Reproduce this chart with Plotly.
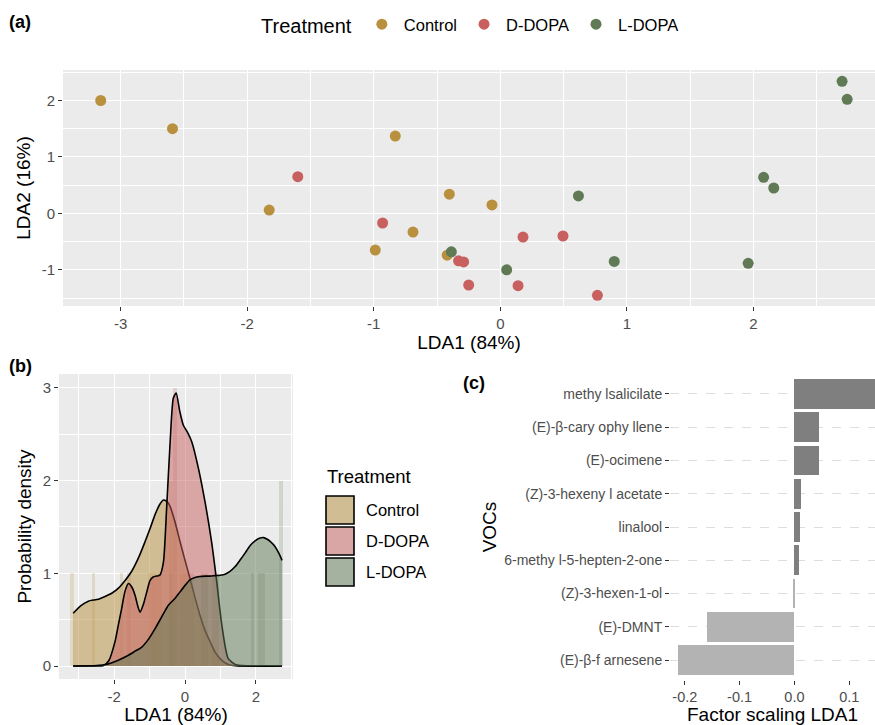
import plotly.graph_objects as go

# ---------------- data ----------------
treatments = ["Control", "D-DOPA", "L-DOPA"]
point_colors = ["#B8903E", "#C8605F", "#5F7A55"]
fill_colors = ["rgba(184,144,62,0.5)", "rgba(200,96,95,0.5)", "rgba(95,122,85,0.5)"]

# panel (a): LDA scores
lda1_control = [-3.157, -2.59, -0.83, -1.826, -0.69, -0.988, -0.403, -0.066, -0.42]
lda2_control = [2.00, 1.50, 1.37, 0.06, -0.33, -0.65, 0.34, 0.15, -0.74]
lda1_ddopa = [-1.60, -0.93, 0.179, 0.495, -0.33, -0.29, -0.25, 0.14, 0.767]
lda2_ddopa = [0.65, -0.17, -0.42, -0.40, -0.84, -0.86, -1.27, -1.28, -1.45]
lda1_ldopa = [2.70, 2.74, 2.08, 2.16, 0.617, -0.387, 0.90, 1.958, 0.05]
lda2_ldopa = [2.34, 2.02, 0.64, 0.45, 0.31, -0.68, -0.85, -0.885, -1.00]

# panel (b): density curves
dens_x_control = [-3.16, -2.95, -2.73, -2.45, -2.26, -2.05, -1.88, -1.70, -1.51, -1.30, -1.13,
                  -0.99, -0.85, -0.72, -0.61, -0.50, -0.42, -0.28, -0.14, 0.0, 0.14, 0.28,
                  0.42, 0.56, 0.71, 0.85, 0.99, 1.13, 1.27, 1.50, 1.80, 2.20, 2.74]
dens_y_control = [0.57, 0.65, 0.70, 0.72, 0.75, 0.79, 0.84, 0.92, 1.02, 1.18, 1.34,
                  1.48, 1.63, 1.74, 1.79, 1.77, 1.72, 1.55, 1.34, 1.14, 0.945, 0.74,
                  0.55, 0.39, 0.26, 0.15, 0.08, 0.035, 0.01, 0.0, 0.0, 0.0, 0.0]
dens_x_ddopa = [-3.16, -2.6, -2.3, -2.15, -1.98, -1.88, -1.79, -1.70, -1.60, -1.50, -1.41,
                -1.33, -1.27, -1.18, -1.08, -0.99, -0.90, -0.80, -0.71, -0.61, -0.52, -0.42,
                -0.33, -0.25, -0.15, -0.05, 0.07, 0.19, 0.38, 0.565, 0.75, 0.895, 1.04,
                1.22, 1.46, 2.0, 2.74]
dens_y_ddopa = [0.0, 0.0, 0.005, 0.06, 0.26, 0.45, 0.62, 0.80, 0.89, 0.85, 0.76,
                0.64, 0.58, 0.66, 0.80, 0.92, 0.96, 0.97, 0.98, 1.12, 1.70, 2.42,
                2.89, 2.945, 2.75, 2.60, 2.52, 2.42, 2.13, 1.77, 1.34, 0.91, 0.44,
                0.08, 0.01, 0.0, 0.0]
dens_x_ldopa = [-3.16, -2.5, -2.2, -1.9, -1.60, -1.41, -1.22, -1.03, -0.85, -0.66, -0.47,
                -0.28, -0.14, 0.0, 0.14, 0.28, 0.42, 0.56, 0.71, 0.85, 0.99, 1.13, 1.27,
                1.41, 1.55, 1.70, 1.84, 1.98, 2.12, 2.22, 2.31, 2.42, 2.54, 2.66, 2.74]
dens_y_ldopa = [0.0, 0.005, 0.02, 0.06, 0.116, 0.16, 0.205, 0.29, 0.40, 0.53, 0.656,
                0.73, 0.80, 0.87, 0.93, 0.955, 0.965, 0.97, 0.97, 0.975, 0.98, 0.99, 1.02,
                1.07, 1.14, 1.22, 1.30, 1.35, 1.38, 1.385, 1.37, 1.34, 1.29, 1.21, 1.14]

# panel (c): factor scaling of LDA1 (bottom to top)
vocs = ["(E)-β-f arnesene", "(E)-DMNT", "(Z)-3-hexen-1-ol", "6-methy l-5-hepten-2-one",
        "linalool", "(Z)-3-hexeny l acetate", "(E)-ocimene", "(E)-β-cary ophy llene",
        "methy lsalicilate"]
scaling = [-0.213, -0.160, -0.002, 0.008, 0.0098, 0.0128, 0.044, 0.045, 0.150]

# tick labels (hyphen-minus as in the original)
a_xticks = [-3, -2, -1, 0, 1, 2]
a_yticks = [-1, 0, 1, 2]
b_xticks = [-2, 0, 2]
b_yticks = [0, 1, 2, 3]
c_xticks = [-0.2, -0.1, 0.0, 0.1]
c_xticklabels = ["-0.2", "-0.1", "0.0", "0.1"]

# ---------------- figure ----------------
W, H = 875, 725
FONT = "Liberation Sans, Arial, sans-serif"
TICKC = "#4D4D4D"


def px(x):
    return x / W


def py(y):
    return 1 - y / H


fig = go.Figure()

lda1 = [lda1_control, lda1_ddopa, lda1_ldopa]
lda2 = [lda2_control, lda2_ddopa, lda2_ldopa]
dens_x = [dens_x_control, dens_x_ddopa, dens_x_ldopa]
dens_y = [dens_y_control, dens_y_ddopa, dens_y_ldopa]

for t, c, x, y in zip(treatments, point_colors, lda1, lda2):
    fig.add_trace(go.Scatter(x=x, y=y, mode="markers", name=t,
                             marker=dict(size=11, color=c),
                             xaxis="x", yaxis="y", legend="legend"))

for t, c, x in zip(treatments, point_colors, lda1):
    fig.add_trace(go.Histogram(x=x, xbins=dict(start=-3.24, end=2.86, size=0.1),
                               marker=dict(color=c), opacity=0.2, showlegend=False,
                               hoverinfo="skip", xaxis="x2", yaxis="y2"))

for t, fc, x, y in zip(treatments, fill_colors, dens_x, dens_y):
    fig.add_trace(go.Scatter(x=x, y=y, mode="lines", fill="tozeroy", fillcolor=fc,
                             line=dict(color="black", width=1.6, shape="spline", smoothing=0.6),
                             showlegend=False, xaxis="x2", yaxis="y2"))

bar_colors = ["#7F7F7F" if v > 0 else "#B3B3B3" for v in scaling]
fig.add_trace(go.Bar(x=scaling, y=vocs, orientation="h", width=0.9,
                     marker=dict(color=bar_colors, line=dict(width=0)),
                     showlegend=False, xaxis="x3", yaxis="y3"))


def ticks(vals, size=15):
    return dict(tickmode="array", tickvals=vals, ticktext=[str(v) for v in vals],
                showline=False, zeroline=False, ticks="outside", ticklen=4, tickwidth=1.1,
                tickcolor="#333333", tickfont=dict(size=size, color=TICKC, family=FONT))


gray_grid = dict(showgrid=True, gridcolor="white", gridwidth=1.2)
title_font = dict(size=19, color="black", family=FONT)


def minor(vals):
    return dict(tickmode="array", tickvals=vals, showgrid=True, gridcolor="white",
                gridwidth=0.5, ticks="")


fig.update_layout(
    width=W, height=H, margin=dict(l=0, r=0, t=0, b=0),
    paper_bgcolor="white", plot_bgcolor="white", bargap=0, barmode="overlay",
    font=dict(family=FONT, color="black"),
    xaxis=dict(domain=[px(63), 1], range=[-3.455, 2.96],
               minor=minor([-3.5, -2.5, -1.5, -0.5, 0.5, 1.5, 2.5]),
               title=dict(text="LDA1 (84%)", font=title_font, standoff=3),
               anchor="y", **gray_grid, **ticks(a_xticks)),
    yaxis=dict(domain=[py(306), py(70)], range=[-1.64, 2.54],
               minor=minor([-1.5, -0.5, 0.5, 1.5, 2.5]),
               title=dict(text="LDA2 (16%)", font=title_font, standoff=6),
               anchor="x", **gray_grid, **ticks(a_yticks)),
    xaxis2=dict(domain=[px(59), px(293)], range=[-3.56, 3.05],
                minor=minor([-3, -1, 1, 3]),
                title=dict(text="LDA1 (84%)", font=title_font, standoff=1),
                anchor="y2", **gray_grid, **ticks(b_xticks)),
    yaxis2=dict(domain=[py(679), py(374)], range=[-0.14, 3.15],
                minor=minor([0.5, 1.5, 2.5]),
                title=dict(text="Probability density", font=title_font, standoff=6),
                anchor="x2", **gray_grid, **ticks(b_yticks)),
    xaxis3=dict(domain=[px(670), 1], range=[-0.227, 0.147], showgrid=False,
                title=dict(text="Factor scaling LDA1", font=title_font, standoff=4),
                anchor="y3", **dict(ticks(c_xticks, size=14.5), ticktext=c_xticklabels)),
    yaxis3=dict(domain=[py(680), py(374)], type="category", categoryorder="array",
                categoryarray=vocs, range=[-0.6, 8.6], showgrid=True, gridcolor="#DEDEDE",
                gridwidth=1, griddash="dash", showline=False, zeroline=False,
                ticks="outside", ticklen=4, tickwidth=1.1, tickcolor="#333333",
                tickfont=dict(size=14, color=TICKC, family=FONT),
                title=dict(text="VOCs", font=title_font, standoff=2),
                anchor="x3"),
    legend=dict(orientation="h", x=px(259), xanchor="left", y=py(25), yanchor="middle",
                title=dict(text="Treatment", side="left", font=dict(size=20, family=FONT)),
                font=dict(size=16.5, family=FONT, color="black"), bgcolor="rgba(0,0,0,0)",
                itemsizing="trace", itemwidth=34),
)

# gray panel backgrounds for (a) and (b)
for xr, yr in [("x domain", "y domain"), ("x2 domain", "y2 domain")]:
    fig.add_shape(type="rect", xref=xr, yref=yr, x0=0, x1=1, y0=0, y1=1,
                  fillcolor="#EBEBEB", line=dict(width=0), layer="below")

# legend for panel (b)
fig.add_annotation(x=px(325), y=py(477), xref="paper", yref="paper", text="Treatment",
                   showarrow=False, xanchor="left", yanchor="middle",
                   font=dict(size=18.5, family=FONT, color="black"))
key_top = 496
key_h = 31
for i, (t, fc) in enumerate(zip(treatments, fill_colors)):
    y0 = key_top + i * key_h
    fig.add_shape(type="rect", xref="paper", yref="paper", x0=px(326), x1=px(354),
                  y0=py(y0 + 28), y1=py(y0), fillcolor="#EBEBEB", line=dict(width=0))
    fig.add_shape(type="rect", xref="paper", yref="paper", x0=px(326), x1=px(354),
                  y0=py(y0 + 28), y1=py(y0), fillcolor=fc,
                  line=dict(color="black", width=1.6))
    fig.add_annotation(x=px(364), y=py(y0 + 14), xref="paper", yref="paper", text=t,
                       showarrow=False, xanchor="left", yanchor="middle",
                       font=dict(size=16.5, family=FONT, color="black"))

# panel labels
for lab, x, y in [("(a)", 7, 22), ("(b)", 7, 366), ("(c)", 461, 383)]:
    fig.add_annotation(x=px(x), y=py(y), xref="paper", yref="paper", text="<b>%s</b>" % lab,
                       showarrow=False, xanchor="left", yanchor="middle",
                       font=dict(size=18, family=FONT, color="black"))

fig.write_html("out.html", config={"displayModeBar": False},
               post_script="document.body.style.margin='0';")
